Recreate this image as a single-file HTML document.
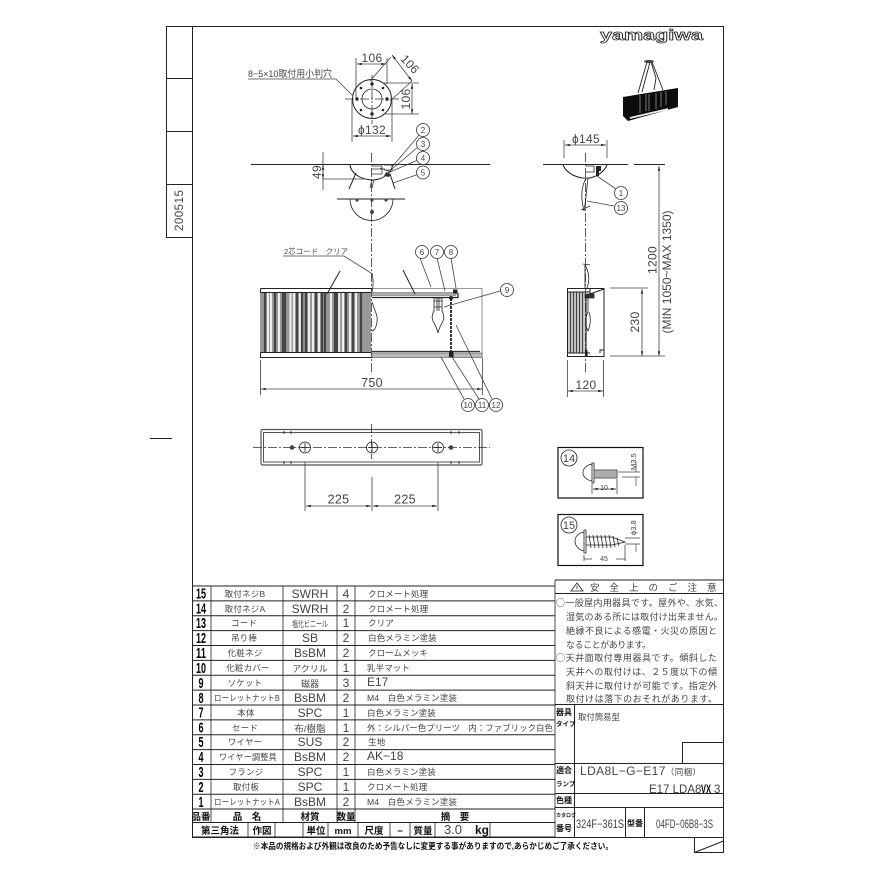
<!DOCTYPE html>
<html>
<head>
<meta charset="utf-8">
<style>
html,body{margin:0;padding:0;background:#fff;width:877px;height:877px;overflow:hidden}
svg{display:block}
text{font-family:"Liberation Sans","Noto Sans CJK JP",sans-serif;fill:#444}
.d{font-size:12px;text-anchor:middle;letter-spacing:.3px}
.b{font-size:8px;text-anchor:middle}
.n{font-size:8.500px;text-anchor:middle;letter-spacing:.2px}
.m{font-size:12px;text-anchor:middle}
.q{font-size:12px;text-anchor:middle}
.s{font-size:8.600px}
.i{font-size:15px;text-anchor:middle}
.i text{font-family:"Liberation Sans",sans-serif;font-weight:bold;fill:#000}
.h{font-size:9.500px;font-weight:bold;text-anchor:middle}
.h text{fill:#111}
.c{font-size:9px}
.c text{font-family:"Noto Sans CJK JP","Liberation Sans",sans-serif}
.l{stroke:#222;stroke-width:1;fill:none}
.t{stroke:#222;stroke-width:.8;fill:none}
.e{stroke:#444;stroke-width:.8;fill:none}
.cl{stroke:#333;stroke-width:.8;fill:none;stroke-dasharray:9 2 2 2}
.bl{stroke:#333;stroke-width:.8;fill:#fff}
</style>
</head>
<body>
<svg width="877" height="877" viewBox="0 0 877 877" xmlns="http://www.w3.org/2000/svg">
<defs>
<marker id="a" viewBox="0 0 8 4" refX="8" refY="2" markerWidth="6" markerHeight="3" orient="auto-start-reverse"><path d="M0 0L8 2L0 4z" fill="#222"/></marker>
</defs>
<rect width="877" height="877" fill="#fff"/>

<!-- frame -->
<path class="l" d="M192.500 26.500H723.500V837.500H192.500ZM192.500 26.500H166.500V237.500H192.500M166.500 78.500H192.500M166.500 131.500H192.500M166.500 184.500H192.500" stroke-width="1.200"/>
<path class="l" d="M694.500 837.500V852.500H723.500V837.500M694.500 852.500L723.500 841"/>
<path class="l" d="M150 438.500H172"/>
<text transform="translate(183,231) rotate(-90)" style="font-size:11.500px;letter-spacing:.5px">200515</text>

<!-- logo -->
<text x="600" y="40" textLength="103" lengthAdjust="spacingAndGlyphs" style="font-size:14.500px;font-weight:bold;fill:#fff;stroke:#222;stroke-width:.7">yamagiwa</text>

<!-- thumbnail -->
<path d="M647 62L638 93M650 62L642 92M651 62L656 78L654 90M652 62L663 90" stroke="#222" stroke-width=".9" fill="none"/>
<ellipse cx="649" cy="61.500" rx="5" ry="1.600" fill="#444"/>
<path d="M623 97L678 88V107L628 121L623 116Z" fill="#0c0c0c"/>
<path d="M640 95v18M646 94v17M649 94v17M656 93v16M661 92v15M666 91v14" stroke="#777" stroke-width="1"/>
<path d="M630 118L668 109" stroke="#eee" stroke-width="1.800"/>

<!-- top plan -->
<circle cx="372" cy="99" r="19.500" class="l" stroke-width="1.300"/>
<circle cx="372" cy="99" r="10" class="t"/>
<path class="cl" d="M345 99H399M372 75V124"/>
<g fill="#222"><circle cx="372" cy="84" r="1.700"/><circle cx="372" cy="114" r="1.700"/><circle cx="357" cy="99" r="1.700"/><circle cx="387" cy="99" r="1.700"/><circle cx="361" cy="88" r="1.300"/><circle cx="383" cy="88" r="1.300"/><circle cx="361" cy="110" r="1.300"/><circle cx="383" cy="110" r="1.300"/></g>
<path class="e" d="M356 58V99M387 58V84"/>
<path class="e" d="M357 64H386" marker-start="url(#a)" marker-end="url(#a)"/>
<text class="d" x="372" y="62">106</text>
<path class="e" d="M370 81L391 57M390 101L412 81"/>
<path class="e" d="M392 55L412 81" marker-start="url(#a)" marker-end="url(#a)"/>
<text class="d" transform="translate(407,67) rotate(47)">106</text>
<path class="e" d="M383 83H419M383 114H419"/>
<path class="e" d="M412 84V114" marker-start="url(#a)" marker-end="url(#a)"/>
<text class="d" transform="translate(410,99) rotate(-90)">106</text>
<path class="e" d="M352 99V142M392 99V142"/>
<path class="e" d="M353 136H391" marker-start="url(#a)" marker-end="url(#a)"/>
<text class="d" x="372" y="134">ϕ132</text>
<path class="e" d="M248 79H336L353 96"/>
<text x="248" y="77" style="font-size:9.500px" textLength="84" lengthAdjust="spacingAndGlyphs">8−5×10取付用小判穴</text>

<!-- ceiling elevation -->
<path d="M251 164.500H490" stroke="#222" stroke-width="1" fill="none"/>
<path class="l" d="M350 165C351 172 358 179 372 180C381 180 390 175 393 165"/>
<path class="l" d="M356 173L349 189M390 174L395 189"/>
<path class="cl" d="M371.500 153V372"/>
<path class="e" d="M323 152V190M323 179H366"/>
<text class="d" transform="translate(321,172) rotate(-90)">49</text>
<path class="e" d="M323 165V179" marker-start="url(#a)" marker-end="url(#a)"/>
<path d="M372 166H382V174H372M372 169H385M380 168L391 172M384 165H392V170H384" stroke="#333" stroke-width=".8" fill="none"/>
<path d="M386 172L391 174L389 177L384 176Z" fill="#333"/>
<path d="M372 180L370 188M374 180L372 188" stroke="#333" stroke-width=".8"/>
<path class="e" d="M392 167L420 134M392 169L418 147M390 172L418 160M393 183L419 174"/>
<path class="l" d="M337 199H405" stroke-width=".9"/>
<path class="t" d="M350 199A21.500 21.500 0 0 0 393 199"/>
<g fill="#444"><circle cx="357" cy="200" r="1.600"/><circle cx="372" cy="200" r="1.600"/><circle cx="386" cy="200" r="1.600"/><circle cx="372" cy="212" r="2"/></g>

<!-- balloons -->
<g class="bl">
<circle cx="423" cy="130" r="6.500"/><circle cx="423" cy="144" r="6.500"/><circle cx="423" cy="158" r="6.500"/><circle cx="423" cy="172.500" r="6.500"/>
<circle cx="422" cy="252" r="6.500"/><circle cx="437" cy="252" r="6.500"/><circle cx="451" cy="252" r="6.500"/>
<circle cx="507" cy="290" r="6.500"/>
<circle cx="468" cy="405" r="6.500"/><circle cx="482" cy="405" r="6.500"/><circle cx="496" cy="405" r="6.500"/>
<circle cx="621" cy="193" r="6.500"/><circle cx="621" cy="208" r="6.500"/>
</g>
<g class="b">
<text x="423" y="133">2</text><text x="423" y="147">3</text><text x="423" y="161">4</text><text x="423" y="175.500">5</text>
<text x="422" y="255">6</text><text x="437" y="255">7</text><text x="451" y="255">8</text>
<text x="507" y="293">9</text>
<text x="468" y="408">10</text><text x="482" y="408">11</text><text x="496" y="408">12</text>
<text x="621" y="196">1</text><text x="621" y="211">13</text>
</g>

<!-- front view -->
<g>
<rect x="260" y="292" width="111" height="61" fill="#999"/>
<path stroke-width="2" fill="none" stroke="#eee" d="M268 292v61M271 292v61M279 292v61M290.500 292v61M294 292v61M300 292v61M309 292v61M313 292v61M319 292v61M331 292v61M339 292v61M343 292v61M350 292v61M356 292v61"/>
<path stroke-width="2.200" fill="none" stroke="#444" d="M265 292v61M275 292v61M283 292v61M285 292v61M297 292v61M302 292v61M306 292v61M316 292v61M322 292v61M325 292v61M335 292v61M337 292v61M346 292v61M353 292v61M361 292v61"/>
</g>
<path class="l" stroke="#555" d="M260.500 288.500H372M260.500 288.500V292.500M260.500 292.500H371M260.500 352.500H371M260.500 352.500V357.500H372"/>
<!-- front view right half -->
<path d="M372 288.500H482V357" stroke="#777" stroke-width=".8" fill="none"/>
<rect x="372" y="292.500" width="84" height="3" fill="#aaa" stroke="#777" stroke-width=".6"/>
<path d="M372 297.500H458V293" stroke="#222" stroke-width="1.200" fill="none"/>
<path d="M372 351.500H480" stroke="#333" stroke-width="1.200" fill="none"/>
<rect x="372" y="353" width="110" height="4.500" fill="#bbb" stroke="#666" stroke-width=".7"/>
<path d="M451 298V352" stroke="#222" stroke-width="1.800" stroke-dasharray="3 1" fill="none"/>
<rect x="449" y="351" width="4.500" height="6" fill="#222"/><circle cx="451" cy="298" r="2" fill="#222"/>
<rect x="453" y="289.500" width="4.500" height="4" fill="#222"/>
<path class="t" d="M372 302C376 314 378 316 377 322C376 329 374 330 372 331M372 273C374 282 373 288 372 292"/>
<path class="t" d="M434 298V311C432 314 431.500 318 433 321C435 325 437 328 438 333C439 328 441 325 443 321C444.500 318 444 314 442 311V298Z"/>
<path class="t" d="M434 301H442M434 307H442M437 298V311M439 298V311" stroke="#777"/>
<path d="M340 271L327 294M403 270L415 294" stroke="#222" stroke-width="1" fill="none"/>
<path class="e" d="M283 256H344L371 273"/>
<text x="284" y="254" style="font-size:7.500px">2芯コード　クリア</text>
<path class="e" d="M420 258L431 287M437 258L445 291M451 258L456 288M500 291L444 307M464 399L441 357M479 399L452 357M492 399L456 325"/>
<!-- 750 dim -->
<path class="e" d="M260.500 360V395M482.500 358V395"/>
<path class="e" d="M261 389H482" marker-start="url(#a)" marker-end="url(#a)"/>
<text class="d" x="372" y="387" style="font-size:12.500px">750</text>

<!-- side view -->
<path d="M543 164.500H628M634 164.500H665" stroke="#222" stroke-width="1" fill="none"/>
<path class="e" d="M564 140V158M607 140V158M610 288H648M610 356H665"/>
<path class="e" d="M565 145H606" marker-start="url(#a)" marker-end="url(#a)"/>
<text class="d" x="586" y="143">ϕ145</text>
<path class="l" d="M563 165C566 172 572 176 582 178H590C598 176 604 172 607 165"/>
<path class="cl" d="M585.500 153V372"/>
<path class="t" d="M586 166H594V172H586"/>
<path d="M596 166H601V171H599V176H596Z" fill="#222"/>
<path class="t" d="M586 178C582 186 580 195 584 211M588 178C587 186 586 200 584 211M581 210L590 206"/>
<path class="e" d="M597 176L616 189M587 201L614 206"/>
<path class="t" d="M583 264L590 265M585 265C589 272 590 280 587 288M585 265V288"/>
<rect x="567" y="292" width="18" height="61" fill="#999"/>
<path stroke="#eee" stroke-width="1.200" d="M569 292v61M572 292v61M575 292v61M578 292v61M581 292v61M584 292v61"/>
<path stroke="#444" stroke-width="1.200" d="M570.500 292v61M573.500 292v61M576.500 292v61M579.500 292v61M582.500 292v61"/>
<path class="l" d="M567.500 288.500H604V356.500H567.500ZM567.500 292H590M567.500 353H590M590 288V294L604 289M600 353V350H604"/>
<path d="M585 294H594V298H585Z" stroke="#222" fill="#333" stroke-width=".8"/>
<path d="M586 296V356" stroke="#222" stroke-width="1.200" fill="none"/>
<path class="t" d="M588 298V312C585 318 585 325 588 331C591 324 591 318 589 312"/>
<rect x="585" y="350" width="2.500" height="6" fill="#222"/>
<path class="e" d="M659 166V356" marker-start="url(#a)" marker-end="url(#a)"/>
<path class="e" d="M642 289V356" marker-start="url(#a)" marker-end="url(#a)"/>
<text class="d" transform="translate(656.500,260) rotate(-90)">1200</text>
<text class="d" transform="translate(671,272) rotate(-90)" style="letter-spacing:0">(MIN 1050~MAX 1350)</text>
<text class="d" transform="translate(639,322) rotate(-90)">230</text>
<path class="e" d="M567.500 360V397M603.500 360V397"/>
<path class="e" d="M568 391H603" marker-start="url(#a)" marker-end="url(#a)"/>
<text class="d" x="586" y="389">120</text>

<!-- bottom plan -->
<rect x="261" y="429.500" width="221" height="35.500" rx="1.500" stroke="#555" stroke-width="1.200" fill="none"/>
<rect x="263.500" y="432.500" width="216" height="29.500" stroke="#555" stroke-width="1" fill="none"/>
<path class="cl" d="M253 447.500H490M371.500 424V459"/>
<circle cx="305" cy="447.500" r="5.500" class="t" stroke-width="1.100" fill="#fff"/>
<circle cx="372" cy="447.500" r="5.500" class="t" stroke-width="1.100"/>
<circle cx="438" cy="447.500" r="5.500" class="t" stroke-width="1.100" fill="#fff"/>
<path class="t" d="M305 443v9M372 443v9M438 443v9M301 447.500h8M368 447.500h8M434 447.500h8"/>
<circle cx="292" cy="447.500" r="2.300" fill="#444"/><circle cx="451" cy="447.500" r="2.300" fill="#444"/>
<path d="M284 431v3M291 431v3M284 461v3M291 461v3M451 431v3M459 431v3M451 461v3M459 461v3" stroke="#333"/>
<path class="e" d="M305 462V511M372 477V511M438 462V511"/>
<path class="e" d="M306 506H371" marker-start="url(#a)" marker-end="url(#a)"/>
<path class="e" d="M373 506H437" marker-start="url(#a)" marker-end="url(#a)"/>
<text class="d" x="338.500" y="503.500" style="font-size:12.500px">225</text>
<text class="d" x="405" y="503.500" style="font-size:12.500px">225</text>

<!-- detail 14 -->
<rect x="558" y="447.500" width="85" height="50.500" stroke="#111" stroke-width="1.200" fill="#fff"/>
<circle cx="569" cy="458" r="8" class="t"/>
<text x="569" y="462" style="font-size:11px;text-anchor:middle">14</text>
<path class="t" d="M592 464C587 465 583 468 583 473C583 477 587 480 592 481M592 463H594V483H592ZM594 470H617V478H594Z"/>
<path d="M594 470H617V478H594Z" fill="#777" stroke="none" opacity=".6"/>
<path class="e" d="M592 484V494M617 479V494M618 472H640M622 477H640"/>
<path class="e" d="M593 489H616" marker-start="url(#a)" marker-end="url(#a)"/>
<text x="604" y="490" style="font-size:7px;text-anchor:middle">10</text>
<text transform="translate(636,470) rotate(-90)" style="font-size:7.500px">M3.5</text>
<path d="M636 472V462M636 477V486" stroke="#444" stroke-width=".7" fill="none"/>

<!-- detail 15 -->
<rect x="558" y="514.500" width="85" height="51" stroke="#111" stroke-width="1.200" fill="#fff"/>
<circle cx="569" cy="525" r="8" class="t"/>
<text x="569" y="529" style="font-size:11px;text-anchor:middle">15</text>
<path class="t" d="M584 532C579 533 575 536 575 541C575 546 579 550 584 551M584 530H586V553H584ZM586 537H612L625 542L612 545H586Z"/>
<path class="t" d="M589 535L591 548M593 535L595 548M597 535L599 548M601 535L603 548M605 535L607 548M609 535L611 548M613 536L615 547M617 538L619 546"/>
<path class="e" d="M584 555V561M625 545V561M625 538H640M625 544H640M584 559H592M616 559H625"/>
<text x="604" y="561" style="font-size:7px;text-anchor:middle">45</text>
<text transform="translate(636,535) rotate(-90)" style="font-size:7.500px">ϕ3.8</text>
<path d="M636 544V552" stroke="#444" stroke-width=".7" fill="none"/>

<!-- parts table -->
<path class="l" stroke-width="1.100" d="M192 586H555M192 600.900H555M192 615.800H555M192 630.600H555M192 645.500H555M192 660.400H555M192 675.300H555M192 690.100H555M192 705H555M192 719.900H555M192 734.800H555M192 749.600H555M192 764.500H555M192 779.400H555M192 794.300H555M192 809H555M192 822.500H555M192 837H555"/>
<path class="t" stroke-width="1" d="M211 586V822.500M283 586V822.500M337 586V822.500M355 586V822.500M555 580V837"/>
<path class="t" stroke-width="1" d="M248 822.500V837M275 822.500V837M303 822.500V837M328 822.500V837M358 822.500V837M390 822.500V837M410 822.500V837M435 822.500V837M490 822.500V837"/>

<g class="i">
<text x="201" y="598.500" textLength="10" lengthAdjust="spacingAndGlyphs">15</text><text x="201" y="613.500" textLength="10" lengthAdjust="spacingAndGlyphs">14</text><text x="201" y="628" textLength="10" lengthAdjust="spacingAndGlyphs">13</text><text x="201" y="643" textLength="10" lengthAdjust="spacingAndGlyphs">12</text><text x="201" y="658" textLength="10" lengthAdjust="spacingAndGlyphs">11</text><text x="201" y="673" textLength="10" lengthAdjust="spacingAndGlyphs">10</text><text x="201" y="688" textLength="5" lengthAdjust="spacingAndGlyphs">9</text><text x="201" y="703" textLength="5" lengthAdjust="spacingAndGlyphs">8</text><text x="201" y="717.500" textLength="5" lengthAdjust="spacingAndGlyphs">7</text><text x="201" y="732.500" textLength="5" lengthAdjust="spacingAndGlyphs">6</text><text x="201" y="747" textLength="5" lengthAdjust="spacingAndGlyphs">5</text><text x="201" y="762" textLength="5" lengthAdjust="spacingAndGlyphs">4</text><text x="201" y="777" textLength="5" lengthAdjust="spacingAndGlyphs">3</text><text x="201" y="792" textLength="5" lengthAdjust="spacingAndGlyphs">2</text><text x="201" y="807" textLength="5" lengthAdjust="spacingAndGlyphs">1</text>
</g>
<g class="n">
<text x="245" y="597">取付ネジB</text><text x="245" y="612">取付ネジA</text><text x="244" y="626">コード</text><text x="244" y="641">吊り棒</text><text x="245" y="656">化粧ネジ</text><text x="248" y="671">化粧カバー</text><text x="245" y="686">ソケット</text><text x="247" y="701" textLength="66" lengthAdjust="spacingAndGlyphs">ローレットナットB</text><text x="246" y="716">本体</text><text x="245" y="731">セード</text><text x="245" y="745">ワイヤー</text><text x="248" y="760" textLength="58" lengthAdjust="spacingAndGlyphs">ワイヤー調整具</text><text x="246" y="775">フランジ</text><text x="246" y="790">取付板</text><text x="247" y="805" textLength="66" lengthAdjust="spacingAndGlyphs">ローレットナットA</text>
</g>
<g class="m">
<text x="310" y="598">SWRH</text><text x="310" y="613">SWRH</text><text x="310" y="627" style="font-size:8.500px" textLength="36" lengthAdjust="spacingAndGlyphs">塩化ビニール</text><text x="310" y="642">SB</text><text x="310" y="657">BsBM</text><text x="310" y="672" style="font-size:9px">アクリル</text><text x="310" y="687" style="font-size:9px">磁器</text><text x="310" y="702">BsBM</text><text x="310" y="717">SPC</text><text x="310" y="732" style="font-size:9.500px">布/樹脂</text><text x="310" y="746">SUS</text><text x="310" y="761">BsBM</text><text x="310" y="776">SPC</text><text x="310" y="791">SPC</text><text x="310" y="806">BsBM</text>
</g>
<g class="q">
<text x="346" y="598">4</text><text x="346" y="613">2</text><text x="346" y="627">1</text><text x="346" y="642">2</text><text x="346" y="657">2</text><text x="346" y="672">1</text><text x="346" y="687">3</text><text x="346" y="702">2</text><text x="346" y="717">1</text><text x="346" y="732">1</text><text x="346" y="746">2</text><text x="346" y="761">2</text><text x="346" y="776">1</text><text x="346" y="791">1</text><text x="346" y="806">2</text>
</g>
<g class="s">
<text x="368" y="597">クロメート処理</text><text x="368" y="612">クロメート処理</text><text x="368" y="626">クリア</text><text x="368" y="641">白色メラミン塗装</text><text x="368" y="656">クロームメッキ</text><text x="367" y="671">乳半マット</text><text x="367" y="686" style="font-size:12px">E17</text><text x="367" y="701" textLength="90" lengthAdjust="spacing">M4　白色メラミン塗装</text><text x="367" y="716">白色メラミン塗装</text><text x="367" y="731" textLength="186" lengthAdjust="spacingAndGlyphs">外：シルバー色プリーツ　内：ファブリック白色</text><text x="368" y="745">生地</text><text x="367" y="760" style="font-size:12px">AK−18</text><text x="367" y="775">白色メラミン塗装</text><text x="367" y="790">クロメート処理</text><text x="367" y="805" textLength="90" lengthAdjust="spacing">M4　白色メラミン塗装</text>
</g>
<g class="h">
<text x="201" y="820">品番</text><text x="247" y="820">品　名</text><text x="310" y="820">材質</text><text x="346" y="820">数量</text><text x="455" y="820">摘　要</text>
<text x="220" y="834">第三角法</text><text x="262" y="834">作図</text><text x="316" y="834">単位</text><text x="343" y="834">mm</text><text x="374" y="834">尺度</text><text x="400" y="834">−</text><text x="423" y="834">質量</text><text x="482" y="834" style="font-size:12px">kg</text>
</g>
<text x="453" y="834" style="font-size:13px;text-anchor:middle">3.0</text>
<text x="253" y="849" textLength="360" lengthAdjust="spacingAndGlyphs" style="font-size:8.500px;font-weight:bold;fill:#111">※本品の規格および外観は改良のため予告なしに変更する事がありますので,あらかじめご了承ください。</text>

<!-- caution -->
<path class="l" stroke-width="1.100" d="M555 580H724M555 593.500H724M555 704.500H724M574.500 704.500V837M555 763.500H724M555 793.500H724M555 807.500H724M625.500 807.500V837M644.500 807.500V837M682.500 763V742.500H724"/>
<path class="t" d="M571 591L577 583L583 591ZM577 585.500V589" />
<text x="590" y="591" style="font-size:9.500px;letter-spacing:10px">安全上のご注意</text>
<g class="c">
<text x="556" y="606" textLength="167" lengthAdjust="spacing">○一般屋内用器具です。屋外や、水気、</text>
<text x="566" y="620" textLength="157" lengthAdjust="spacing">湿気のある所には取付け出来ません。</text>
<text x="566" y="634" textLength="151" lengthAdjust="spacing">絶縁不良による感電・火災の原因と</text>
<text x="566" y="648" textLength="85" lengthAdjust="spacing">なることがあります。</text>
<text x="556" y="661" textLength="161" lengthAdjust="spacing">○天井面取付専用器具です。傾斜した</text>
<text x="566" y="675" textLength="151" lengthAdjust="spacing">天井への取付けは、２５度以下の傾</text>
<text x="566" y="689" textLength="151" lengthAdjust="spacing">斜天井に取付けが可能です。指定外</text>
<text x="566" y="702" textLength="151" lengthAdjust="spacing">取付けは落下のおそれがあります。</text>
</g>
<g style="font-size:8px;font-weight:bold">
<text x="556" y="715" style="fill:#111">器具</text><text x="556" y="726" style="font-size:6.500px;fill:#111">タイプ</text>
<text x="556" y="773" style="fill:#111">適合</text><text x="556" y="786" style="font-size:6.500px;fill:#111">ランプ</text>
<text x="556" y="803" style="fill:#111">色種</text>
<text x="556" y="817" style="font-size:5px;fill:#111">カタログ</text><text x="556" y="831" style="fill:#111">番号</text>
</g>
<text x="578" y="720" style="font-size:8.400px">取付簡易型</text>
<text x="580" y="775" style="font-size:12px;letter-spacing:.4px">LDA8L−G−E17<tspan style="font-size:8.500px">（同梱）</tspan></text>
<text x="649" y="793" style="font-size:11.500px">E17 LDA8</text>
<text x="701" y="793" style="font-size:11.500px;font-weight:bold;fill:#000" textLength="10" lengthAdjust="spacingAndGlyphs">VX</text>
<text x="714" y="793" style="font-size:11.500px">3</text>
<text x="576" y="828" style="font-size:11.500px" textLength="48" lengthAdjust="spacingAndGlyphs">324F−361S</text>
<text x="627" y="826" style="font-size:8px;font-weight:bold;fill:#111">型番</text>
<text x="656" y="828" style="font-size:11.500px" textLength="57" lengthAdjust="spacingAndGlyphs">04FD−06B8−3S</text>
</svg>
</body>
</html>
